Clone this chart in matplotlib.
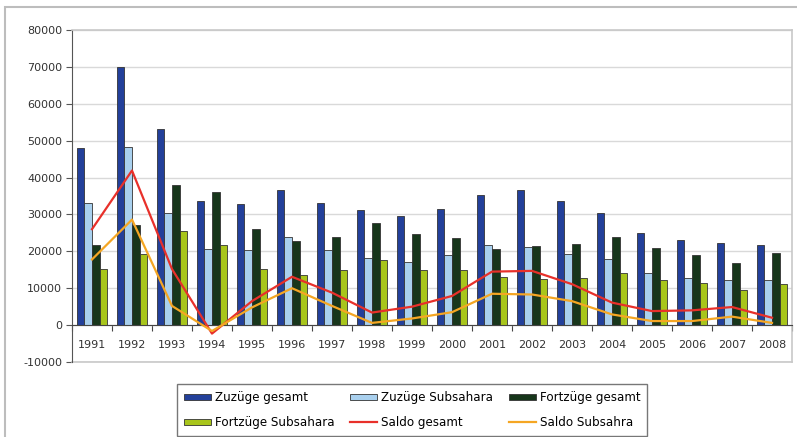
import numpy as np
import matplotlib
matplotlib.use("Agg")
import matplotlib.pyplot as plt
from matplotlib.patches import Rectangle

# ======================
# Daten
# ======================
jahre = [str(j) for j in range(1991, 2009)]

zuzuege_gesamt = [48000, 70000, 53200, 33700, 32900, 36600, 33200, 31200, 29700,
                  31500, 35200, 36500, 33600, 30400, 25100, 23000, 22200, 21700]
zuzuege_subsahara = [33100, 48400, 30400, 20600, 20400, 23800, 20400, 18300, 17200,
                     19000, 21800, 21300, 19400, 17900, 14100, 12700, 12200, 12200]
fortzuege_gesamt = [21800, 27100, 38000, 36200, 26000, 22900, 23900, 27800, 24700,
                    23500, 20600, 21500, 22100, 23900, 21000, 19000, 16800, 19500]
fortzuege_subsahara = [15200, 19400, 25400, 21800, 15100, 13600, 15000, 17700, 14900,
                       14900, 13100, 12400, 12900, 14000, 12200, 11300, 9400, 11100]
saldo_gesamt = [26000, 41900, 15200, -2300, 6500, 13100, 8800, 3400, 5000,
                7900, 14500, 14700, 11100, 6100, 3800, 4000, 4900, 2000]
saldo_subsahara = [17800, 28600, 5200, -1600, 4800, 10000, 5200, 600, 1800,
                   3500, 8500, 8300, 6500, 2900, 1100, 1100, 2300, 600]

y_ticks = [-10000, 0, 10000, 20000, 30000, 40000, 50000, 60000, 70000, 80000]

# ======================
# Stil
# ======================
plt.rcParams['font.family'] = ['DejaVu Sans']
plt.rcParams['font.size'] = 8

W, H = 797, 437
fig = plt.figure(figsize=(W / 100, H / 100), dpi=100)
ax = fig.add_axes([72 / W, 1 - 362 / H, (792 - 72) / W, (362 - 30) / H])

x = np.arange(len(jahre))
w = 0.19
bars = [
    (zuzuege_gesamt, "#23409A", "Zuzüge gesamt"),
    (zuzuege_subsahara, "#A9D0EE", "Zuzüge Subsahara"),
    (fortzuege_gesamt, "#17361B", "Fortzüge gesamt"),
    (fortzuege_subsahara, "#A8C51B", "Fortzüge Subsahara"),
]
handles = []
for i, (vals, col, lab) in enumerate(bars):
    h = ax.bar(x + (i - 1.5) * w, vals, width=w, color=col, edgecolor="#333333",
               linewidth=0.6, label=lab, zorder=2)
    handles.append(h)

l1, = ax.plot(x, saldo_gesamt, color="#E8302A", lw=1.6, label="Saldo gesamt", zorder=3)
l2, = ax.plot(x, saldo_subsahara, color="#F5A623", lw=1.6, label="Saldo Subsahra", zorder=3)

ax.set_xlim(-0.5, len(jahre) - 0.5)
ax.set_ylim(-10000, 80000)
ax.set_yticks(y_ticks)
ax.set_yticklabels([str(v) for v in y_ticks])
ax.yaxis.grid(True, color="#D9D9D9", lw=1.0, zorder=0)
ax.set_axisbelow(True)
# unterer Rand der Zeichenfläche
ax.axhline(-10000, color="#C8C8C8", lw=1.2, clip_on=False, zorder=1)

# x-Achse bei 0
ax.spines['bottom'].set_position(('data', 0))
ax.spines['bottom'].set_color("#444444")
ax.spines['left'].set_color("#555555")
ax.spines['top'].set_color("#C8C8C8")
ax.spines['right'].set_color("#C8C8C8")
ax.spines['top'].set_linewidth(1.2)
ax.spines['right'].set_linewidth(1.2)

ax.set_xticks(np.arange(-0.5, len(jahre), 1.0))
ax.set_xticklabels([])
ax.set_xticks(x, minor=True)
ax.set_xticklabels(jahre, minor=True)
ax.tick_params(axis='x', which='major', direction='out', length=4, color="#444444")
ax.tick_params(axis='x', which='minor', length=0, pad=11, labelcolor="#333333")
ax.tick_params(axis='y', direction='out', length=4, color="#555555", pad=3,
               labelcolor="#333333")

# Legende
order = [handles[0], handles[3], handles[1], l1, handles[2], l2]
leg = fig.legend(order, [h.get_label() for h in order], ncol=3, loc='center',
                 bbox_to_anchor=(412 / W, 1 - 410 / H), frameon=True, fancybox=False,
                 edgecolor="#555555", handlelength=2.3, handleheight=0.45,
                 columnspacing=1.3, labelspacing=1.0, borderpad=0.6,
                 handletextpad=0.3, fontsize=8.6)
leg.get_frame().set_linewidth(1.0)

# Rahmen um das Diagramm
fig.patches.append(Rectangle((5 / W, -0.05), 1.0, 1 - 7 / H + 0.05,
                             transform=fig.transFigure, fill=False,
                             edgecolor="#BDBDBD", lw=1.5))

fig.savefig("out.png", dpi=100)
